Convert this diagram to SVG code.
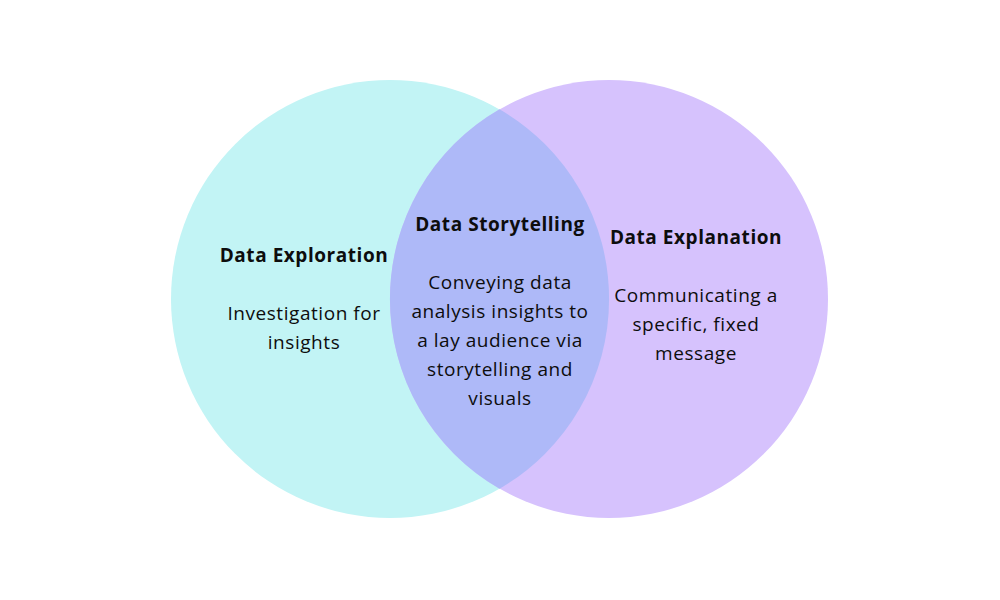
<svg xmlns="http://www.w3.org/2000/svg" width="1000" height="600" viewBox="0 0 1000 600">
<style>
.t{font-family:"Open Sans","Noto Sans",sans-serif;font-size:19px;letter-spacing:0.55px;fill:#0d0d0d;text-anchor:middle}
.b{font-weight:bold}
</style>
<rect width="1000" height="600" fill="#ffffff"/>
<g id="exploration">
<circle cx="390" cy="299" r="219" fill="#c2f4f5"/>
</g>
<g id="explanation">
<circle cx="609" cy="299" r="219" fill="#d6c2fd"/>
</g>
<g id="storytelling">
<path d="M499.5 109.3 A219 219 0 0 1 499.5 488.7 A219 219 0 0 1 499.5 109.3 Z" fill="#aeb9f8"/>
</g>
<g id="connectors"></g>
<g id="labels">
<text class="t b" x="304" y="262">Data Exploration</text>
<text class="t" x="304" y="320">Investigation for</text>
<text class="t" x="304" y="349">insights</text>
<text class="t b" x="500" y="231">Data Storytelling</text>
<text class="t" x="500" y="289">Conveying data</text>
<text class="t" x="500" y="318">analysis insights to</text>
<text class="t" x="500" y="347">a lay audience via</text>
<text class="t" x="500" y="376">storytelling and</text>
<text class="t" x="500" y="405">visuals</text>
<text class="t b" x="696" y="244">Data Explanation</text>
<text class="t" x="696" y="302">Communicating a</text>
<text class="t" x="696" y="331">specific, fixed</text>
<text class="t" x="696" y="360">message</text>
</g>
</svg>
